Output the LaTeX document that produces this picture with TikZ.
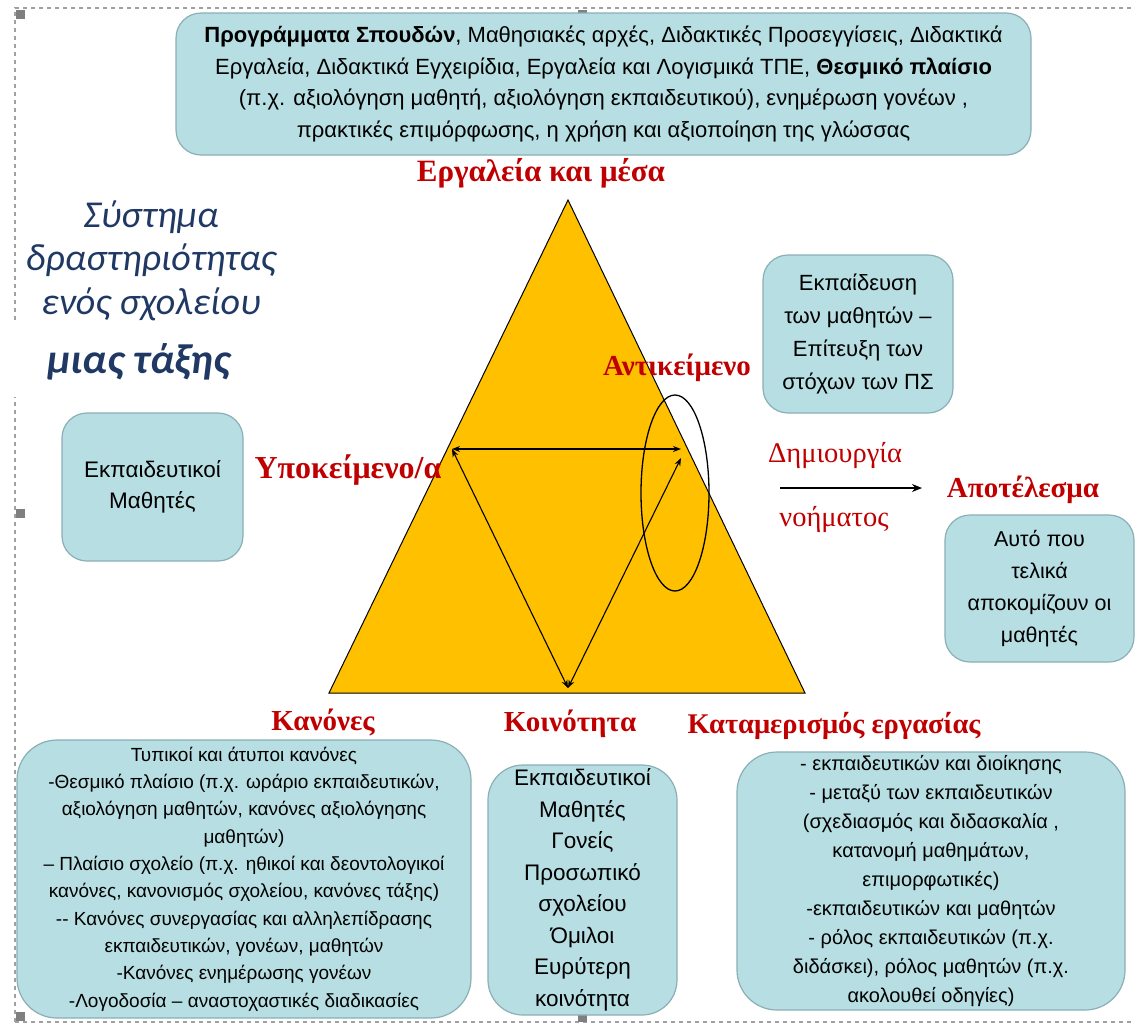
\documentclass[tikz,border=0pt]{standalone}
\usepackage{fontspec}
\setmainfont{Liberation Sans}
\newfontfamily\redfont{Liberation Serif}
\newfontfamily\bluefont{Carlito}
\usetikzlibrary{arrows.meta,shapes.geometric}
\definecolor{boxfill}{HTML}{B7DEE2}
\definecolor{boxline}{HTML}{8AAFB4}
\definecolor{lblred}{HTML}{C00000}
\definecolor{navy}{HTML}{1F3864}
\definecolor{tri}{HTML}{FFC000}
\definecolor{framegray}{HTML}{A0A0A0}
\definecolor{handlegray}{HTML}{7F7F7F}
\begin{document}
\begin{tikzpicture}[x=1pt,y=-1pt,
  infobox/.style={draw=boxline, fill=boxfill, line width=1.2pt, rounded corners=#1,
    align=center, inner sep=0pt, text=black},
  infobox/.default=25pt,
  redlbl/.style={text=lblred, font=\redfont\bfseries\fontsize{29}{32}\selectfont, anchor=base, inner sep=0pt},
  redthin/.style={text=lblred, font=\redfont\fontsize{28.5}{32}\selectfont, anchor=base, inner sep=0pt},
  bluelbl/.style={text=navy, font=\bluefont\itshape\fontsize{38}{44}\selectfont, anchor=base, inner sep=0pt},
  framedash/.style={draw=framegray, line width=1.6pt, dash pattern=on 4pt off 4pt},
  handlebox/.style={fill=handlegray, minimum size=9pt, inner sep=0pt},
  relarrow/.style={{Stealth[length=8pt,width=6pt]}-{Stealth[length=8pt,width=6pt]}, line width=1.1pt},
]
\useasboundingbox (0,0) rectangle (1135,1026);

% dashed frame
\draw[framedash] (15,1022) -- (15,397);
\draw[framedash] (15,320) -- (15,8) -- (1135,8);
\draw[framedash] (15,1022) -- (1135,1022);
\node[handlebox] (h1) at (20,14) {};
\node[handlebox] (h2) at (582,14) {};
\node[handlebox] (h3) at (20,513) {};
\node[handlebox] (h4) at (20,1016) {};
\node[handlebox] (h5) at (582,1017) {};

% triangle
\draw[fill=tri, line width=1pt] (568,200) -- (329,693) -- (805,693) -- cycle;
\coordinate (L) at (452,449);
\coordinate (R) at (681,449);
\coordinate (R2) at (681,458);
\coordinate (B) at (568,688);
\draw[relarrow] (L) -- (R);
\draw[relarrow] (L) -- (B);
\draw[relarrow] (B) -- (R2);
\node[draw, ellipse, minimum width=68pt, minimum height=196pt, line width=1.3pt] (obj) at (675,493) {};

% top box
\node[infobox, minimum width=855pt, minimum height=142pt, font=\fontsize{22}{31.5}\selectfont] (tools) at (603.5,84)
{\textbf{Προγράμματα Σπουδών}, Μαθησιακές αρχές, Διδακτικές Προσεγγίσεις, Διδακτικά\\
Εργαλεία, Διδακτικά Εγχειρίδια, Εργαλεία και Λογισμικά ΤΠΕ, \textbf{Θεσμικό πλαίσιο}\\
(π.χ. αξιολόγηση μαθητή, αξιολόγηση εκπαιδευτικού), ενημέρωση γονέων ,\\
πρακτικές επιμόρφωσης, η χρήση και αξιοποίηση της γλώσσας};

% blue title
\node[bluelbl] (t1) at (151,227) {Σύστημα};
\node[bluelbl] (t2) at (151,270) {δραστηριότητας};
\node[bluelbl] (t3) at (151,314) {ενός σχολείου};
\node[bluelbl, font=\bluefont\bfseries\itshape\fontsize{42}{46}\selectfont] (t4) at (139,373) {μιας τάξης};

% side boxes
\node[infobox, minimum width=181pt, minimum height=148pt, font=\fontsize{22.5}{31}\selectfont] (subj) at (152.5,487)
{Εκπαιδευτικοί\\Μαθητές};
\node[infobox, minimum width=190pt, minimum height=158pt, font=\fontsize{22}{33}\selectfont] (objbox) at (858,334)
{Εκπαίδευση\\των μαθητών –\\Επίτευξη των\\στόχων των ΠΣ};
\node[infobox, minimum width=189pt, minimum height=147pt, font=\fontsize{21.5}{32}\selectfont] (outbox) at (1039.5,588.5)
{Αυτό που\\τελικά\\αποκομίζουν οι\\μαθητές};

% bottom boxes
\node[infobox=40pt, minimum width=454pt, minimum height=278pt, font=\fontsize{19}{27.3}\selectfont] (rules) at (244,879)
{Τυπικοί και άτυποι κανόνες\\
-Θεσμικό πλαίσιο (π.χ. ωράριο εκπαιδευτικών,\\
αξιολόγηση μαθητών, κανόνες αξιολόγησης\\
μαθητών)\\
– Πλαίσιο σχολείο (π.χ. ηθικοί και δεοντολογικοί\\
κανόνες, κανονισμός σχολείου, κανόνες τάξης)\\
-{}- Κανόνες συνεργασίας και αλληλεπίδρασης\\
εκπαιδευτικών, γονέων, μαθητών\\
-Κανόνες ενημέρωσης γονέων\\
-Λογοδοσία – αναστοχαστικές διαδικασίες};
\node[infobox=35pt, minimum width=189pt, minimum height=250pt, font=\fontsize{22.5}{31.5}\selectfont] (comm) at (582.5,890)
{Εκπαιδευτικοί\\Μαθητές\\Γονείς\\Προσωπικό\\σχολείου\\Όμιλοι\\Ευρύτερη\\κοινότητα};
\node[infobox=40pt, minimum width=388pt, minimum height=258pt, font=\fontsize{20}{29}\selectfont] (div) at (931,881)
{- εκπαιδευτικών και διοίκησης\\
- μεταξύ των εκπαιδευτικών\\
(σχεδιασμός και διδασκαλία ,\\
κατανομή μαθημάτων,\\
επιμορφωτικές)\\
-εκπαιδευτικών και μαθητών\\
- ρόλος εκπαιδευτικών (π.χ.\\
διδάσκει), ρόλος μαθητών (π.χ.\\
ακολουθεί οδηγίες)};

% red labels
\node[redlbl, font=\redfont\bfseries\fontsize{31}{34}\selectfont] (lt) at (541,181) {Εργαλεία και μέσα};
\node[redlbl, font=\redfont\bfseries\fontsize{32}{34}\selectfont] (ls) at (348,478) {Υποκείμενο/α};
\node[redlbl] (lo) at (677,375) {Αντικείμενο};
\node[redlbl] (lr) at (1023,497) {Αποτέλεσμα};
\node[redlbl] (lk) at (323,730) {Κανόνες};
\node[redlbl] (lc) at (570,731) {Κοινότητα};
\node[redlbl, font=\redfont\bfseries\fontsize{28.5}{32}\selectfont] (ld) at (834,733) {Καταμερισμός εργασίας};
\node[redthin] (m1) at (835,462) {Δημιουργία};
\node[redthin] (m2) at (834,526) {νοήματος};
\coordinate (a1) at (780,488);
\coordinate (a2) at (922,488);
\draw[-{Stealth[length=10pt,width=8pt]}, line width=1.2pt] (a1) -- (a2);
\end{tikzpicture}
\end{document}
